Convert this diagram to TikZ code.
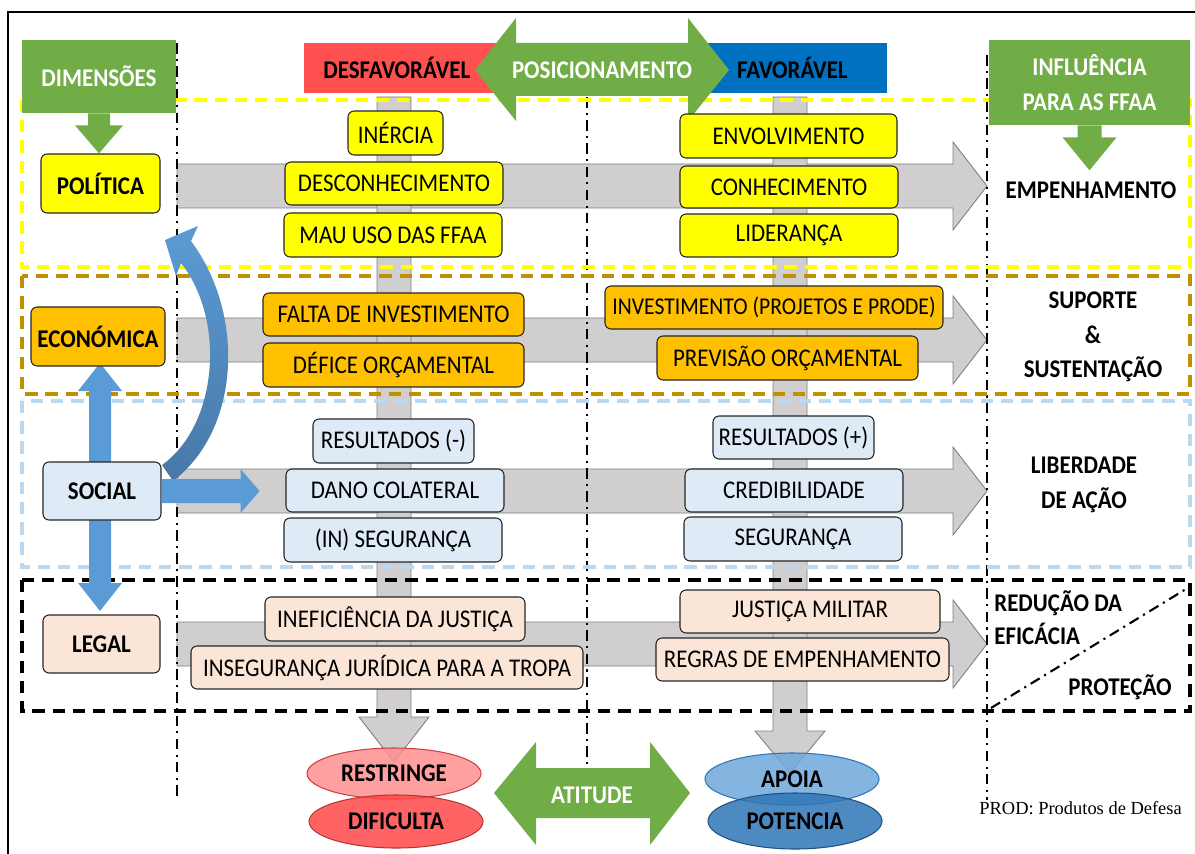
\documentclass[tikz,border=0pt]{standalone}
\usepackage{fontspec}
\setmainfont{Carlito}[FakeStretch=0.9]
\newfontfamily\timesfont{Liberation Serif}
\usetikzlibrary{shapes.geometric}

\definecolor{cgreen}{HTML}{70AD47}
\definecolor{cred}{HTML}{FF5050}
\definecolor{cblue}{HTML}{0070C0}
\definecolor{cyellow}{HTML}{FFFF00}
\definecolor{corange}{HTML}{FFC000}
\definecolor{cpale}{HTML}{DEEBF7}
\definecolor{cpeach}{HTML}{FBE5D6}
\definecolor{cochre}{HTML}{BF9000}
\definecolor{clblue}{HTML}{BDD7EE}
\definecolor{cband}{HTML}{D0CECE}
\definecolor{cbandline}{HTML}{7F7F7F}
\definecolor{carrow}{HTML}{5B9BD5}
\definecolor{crestr}{HTML}{FF8F8F}
\definecolor{cdific}{HTML}{FF4848}
\definecolor{capoia}{HTML}{6FA8DC}
\definecolor{cpoten}{HTML}{2E75B6}

\newcommand{\pxu}{0.02cm}
\newcommand{\lblfont}{\fontsize{14.5pt}{19.5pt}\selectfont}

\tikzset{
  sz/.style 2 args={minimum width=#1*\pxu, minimum height=#2*\pxu},
  every node/.style={font=\lblfont, inner sep=0pt},
  box/.style={draw=black!85, line width=0.6pt, rounded corners=3.5pt},
  dimbox/.style={box, font=\lblfont\bfseries},
  polbox/.style={box, fill=cyellow},
  ecobox/.style={box, fill=corange},
  socbox/.style={box, fill=cpale},
  legbox/.style={box, fill=cpeach},
  greenbox/.style={fill=cgreen, text=white, font=\lblfont\bfseries, align=center},
  topbox/.style={font=\lblfont\bfseries, minimum height=50*\pxu},
  band/.style={fill=cband, draw=cbandline, line width=0.5pt},
  guide/.style={line width=1.2pt, dash pattern=on 6pt off 3pt on 1.2pt off 3pt},
  zone/.style={line width=2.1pt, dash pattern=on 7pt off 4.5pt},
  oval/.style={ellipse, line width=0.6pt, fill opacity=0.85, text opacity=1, font=\lblfont\bfseries},
  blbl/.style={font=\lblfont\bfseries, align=center}
}

\begin{document}
\begin{tikzpicture}[x=0.02cm,y=-0.02cm]
\useasboundingbox (0,0) rectangle (1195,854);
\draw[line width=1.4pt] (8,854) -- (8,12) -- (1195,12);

% setas cinzentas
\foreach \yc in {186,340,491,644}
  \draw[band] (177,\yc-22) -- (953,\yc-22) -- (953,\yc-44) -- (987,\yc)
    -- (953,\yc+44) -- (953,\yc+22) -- (177,\yc+22) -- cycle;
\foreach \xc/\yb/\yt in {394/717/762, 790/731/773}
  \draw[band] (\xc-17,97) -- (\xc+17,97) -- (\xc+17,\yb) -- (\xc+35,\yb)
    -- (\xc,\yt) -- (\xc-35,\yb) -- (\xc-17,\yb) -- cycle;

\draw[guide] (177,43) -- (177,797);
\draw[guide] (587,97) -- (587,790);
\draw[guide] (987,55) -- (987,800);

\draw[zone, draw=cyellow] (22,100) rectangle (1190,267);
\draw[zone, draw=cochre] (22,276) rectangle (1190,394);
\draw[zone, draw=clblue] (22,401) rectangle (1190,567);
\draw[zone, draw=black, line width=2.3pt] (22,580) rectangle (1190,711);
\draw[guide] (991,708) -- (1186,589);

% posicionamento
\node[topbox, fill=cred, anchor=west, text width=5.16cm, inner xsep=0.38cm, align=left] (desf) at (304,68) {DESFAVORÁVEL};
\node[topbox, fill=cblue, anchor=east, text width=4.18cm, inner xsep=0.78cm, align=right] (fav) at (887,68) {FAVORÁVEL};
\fill[cgreen] (475,70) -- (516,18) -- (516,43) -- (688,43) -- (688,18) -- (729,70)
  -- (688,121) -- (688,96) -- (516,96) -- (516,121) -- cycle;
\node[text=white, font=\lblfont\bfseries] (posn) at (602,70) {POSICIONAMENTO};

\node[greenbox, sz={154}{73}] (dim) at (99,76.5) {DIMENSÕES};
\fill[cgreen] (dim.south) ++(-11,0) -- ++(22,0) -- ++(0,12) -- ++(13,0) -- ++(-24,28) -- ++(-24,-28) -- ++(13,0) -- cycle;
\node[greenbox, sz={201}{85}] (infl) at (1089.5,82.5) {INFLUÊNCIA\\PARA AS FFAA};
\fill[cgreen] (infl.south) ++(-12,0) -- ++(24,0) -- ++(0,12) -- ++(15,0) -- ++(-27,33) -- ++(-27,-33) -- ++(15,0) -- cycle;

% setas azuis
\fill[carrow] (100,363) -- (122,391) -- (111,391) -- (111,583) -- (122,583) -- (100,611)
  -- (78,583) -- (89,583) -- (89,391) -- (78,391) -- cycle;
\shade[top color=carrow, bottom color=carrow!78!black]
  (162,465) .. controls (218,425) and (226,320) .. (181,263) -- (176,276) -- (165,240)
  -- (198,226) -- (191,241) .. controls (246,315) and (240,430) .. (173,481) -- cycle;

\node[dimbox, fill=cyellow, sz={119}{59}] (pol) at (100.5,183.5) {POLÍTICA};
\node[dimbox, fill=corange, sz={134}{59}] (eco) at (98,336.5) {ECONÓMICA};
\node[dimbox, fill=cpale, sz={118}{58}] (soc) at (102,491) {SOCIAL};
\node[dimbox, fill=cpeach, sz={117}{58}] (leg) at (101.5,644) {LEGAL};
\fill[carrow] (soc.east) ++(0,-12) -- ++(79,0) -- ++(0,-10) -- ++(19,22) -- ++(-19,22) -- ++(0,-10) -- ++(-79,0) -- cycle;

% desfavoravel
\node[polbox, sz={95}{44}] (inercia) at (395.5,133) {INÉRCIA};
\node[polbox, sz={218}{43}] (desc) at (394,183.5) {DESCONHECIMENTO};
\node[polbox, sz={218}{44}] (mau) at (393,235) {MAU USO DAS FFAA};
\node[ecobox, sz={261}{43}] (falta) at (393.5,314.5) {FALTA DE INVESTIMENTO};
\node[ecobox, sz={261}{44}] (defice) at (393.5,365) {DÉFICE ORÇAMENTAL};
\node[socbox, sz={161}{44}] (resneg) at (393.5,441) {RESULTADOS (-)};
\node[socbox, sz={218}{43}] (dano) at (395,490.5) {DANO COLATERAL};
\node[socbox, sz={218}{44}] (inseg) at (393,540) {(IN) SEGURANÇA};
\node[legbox, sz={260}{44}] (inef) at (395,619) {INEFICIÊNCIA DA JUSTIÇA};
\node[legbox, sz={392}{43}] (juri) at (387,667.5) {INSEGURANÇA JURÍDICA PARA A TROPA};

% favoravel
\node[polbox, sz={217}{44}] (envolv) at (788.5,136) {ENVOLVIMENTO};
\node[polbox, sz={218}{42}] (conhec) at (789,187) {CONHECIMENTO};
\node[polbox, sz={218}{43}] (lider) at (789,235.5) {LIDERANÇA};
\node[ecobox, sz={338}{43}, font=\fontsize{13.7pt}{16pt}\selectfont] (invest) at (774,307.5) {INVESTIMENTO (PROJETOS E PRODE)};
\node[ecobox, sz={261}{44}] (previs) at (787.5,358) {PREVISÃO ORÇAMENTAL};
\node[socbox, sz={161}{43}] (respos) at (793.5,437.5) {RESULTADOS (+)};
\node[socbox, sz={218}{43}] (cred) at (794,490.5) {CREDIBILIDADE};
\node[socbox, sz={218}{44}] (seg) at (793,539) {SEGURANÇA};
\node[legbox, sz={260}{43}] (jmil) at (810,611.5) {JUSTIÇA MILITAR};
\node[legbox, sz={293}{43}] (regras) at (802.5,659.5) {REGRAS DE EMPENHAMENTO};

% atitude
\node[oval, draw=cred!80!black, fill=crestr, sz={174}{51}] (restr) at (394,773.5) {RESTRINGE};
\node[oval, draw=cred!70!black, fill=cdific, sz={174}{53}] (dific) at (396,821.5) {DIFICULTA};
\node[oval, draw=cpoten, fill=capoia, sz={174}{52}] (apoia) at (792,779) {APOIA};
\node[oval, draw=cpoten!70!black, fill=cpoten, sz={174}{56}] (poten) at (795,821) {POTENCIA};
\fill[cgreen] (494,793) -- (536,742) -- (536,768) -- (650,768) -- (650,742) -- (690,793)
  -- (650,845) -- (650,818) -- (536,818) -- (536,845) -- cycle;
\node[text=white, font=\lblfont\bfseries] (atit) at (592,795) {ATITUDE};

% influencia
\node[blbl] (emp) at (1091,190) {EMPENHAMENTO};
\node[blbl] (sup) at (1093,337) {SUPORTE\\\&\\SUSTENTAÇÃO};
\node[blbl] (lib) at (1084,485) {LIBERDADE\\DE AÇÃO};
\node[blbl, align=left, anchor=west, font=\fontsize{14.5pt}{18.7pt}\selectfont\bfseries] (redu) at (994,617.5) {REDUÇÃO DA\\EFICÁCIA};
\node[blbl] (prot) at (1120,687) {PROTEÇÃO};
\node[anchor=west, font=\timesfont\fontsize{10.5pt}{12pt}\selectfont] (prod) at (979,808) {PROD: Produtos de Defesa};
\end{tikzpicture}
\end{document}
